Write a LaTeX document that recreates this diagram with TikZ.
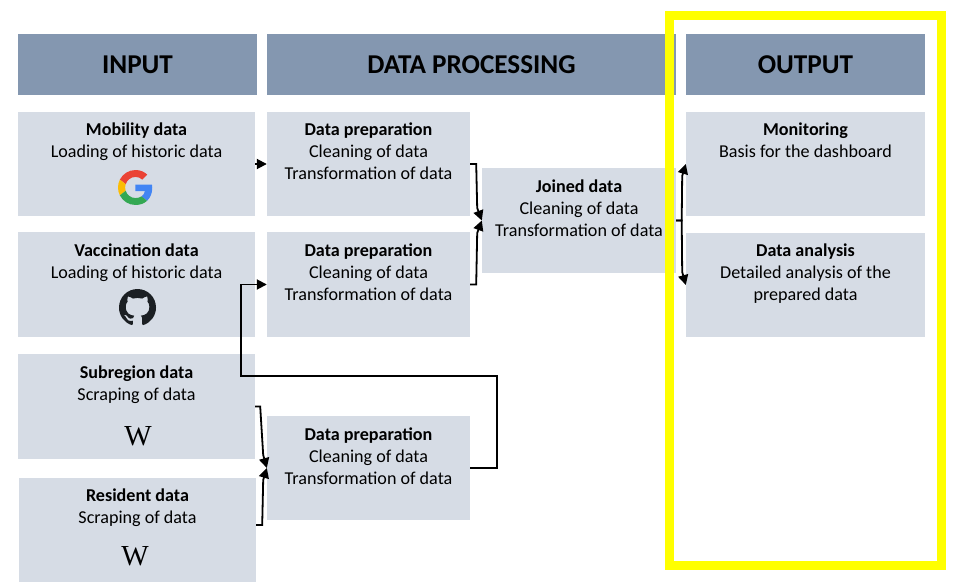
\documentclass[tikz,border=0pt]{standalone}
\usepackage{fontspec}
\setmainfont{Carlito}
\newfontfamily\wikifont{Liberation Serif}
\usetikzlibrary{arrows.meta,positioning}
\definecolor{headblue}{HTML}{8497B0}
\definecolor{boxgray}{HTML}{D6DCE5}
\definecolor{markyellow}{HTML}{FFFF00}
\definecolor{gred}{HTML}{EA4335}
\definecolor{gyellow}{HTML}{FBBC05}
\definecolor{ggreen}{HTML}{34A853}
\definecolor{gblue}{HTML}{4285F4}
\definecolor{hubblack}{HTML}{1B1F23}
\tikzset{
  headbox/.style={fill=headblue,minimum height=61pt,inner sep=0pt,font=\fontsize{27.2}{33}\selectfont\bfseries},
  databox/.style={fill=boxgray,minimum height=104.5pt,inner sep=0pt},
  boxtext/.style={align=center,inner sep=0pt,anchor=north,font=\fontsize{18.1}{22}\selectfont},
  wikitext/.style={inner sep=0pt,font=\fontsize{29}{29}\selectfont\wikifont},
  flow/.style={line width=1.8pt,-{Triangle[length=10pt,width=10pt]}},
}
\begin{document}
\begin{tikzpicture}[x=1pt,y=-1pt]
  \useasboundingbox (0,0) rectangle (953,586);
  % headers
  \node[headbox,minimum width=239pt] (input) at (137.5,64.5) {\raisebox{-1pt}{INPUT}};
  \node[headbox,minimum width=409pt] (processing) at (471.5,64.5) {\raisebox{-1pt}{DATA PROCESSING}};
  \node[headbox,minimum width=239pt] (output) at (805.5,64.5) {\raisebox{-1pt}{OUTPUT}};
  % input column
  \node[databox,minimum width=237pt] (mobility) at (136.5,164) {};
  \node[databox,minimum width=237pt] (vaccination) at (136.5,284.5) {};
  \node[databox,minimum width=237pt] (subregion) at (136.5,406.5) {};
  \node[databox,minimum width=237pt] (resident) at (137.5,530) {};
  \node[boxtext,below=11.5pt of mobility.north] (mobilitytext) {\textbf{Mobility data}\\Loading of historic data};
  \node[boxtext,below=11.5pt of vaccination.north] (vaccinationtext) {\textbf{Vaccination data}\\Loading of historic data};
  \node[boxtext,below=11.5pt of subregion.north] (subregiontext) {\textbf{Subregion data}\\Scraping of data};
  \node[boxtext,below=11.5pt of resident.north] (residenttext) {\textbf{Resident data}\\Scraping of data};
  \node[wikitext] (wikisub) at (138,436) {W};
  \node[wikitext] (wikires) at (135,556) {W};
  % processing column
  \node[databox,minimum width=203pt] (prep1) at (368.5,164) {};
  \node[databox,minimum width=203pt] (prep2) at (368.5,284.5) {};
  \node[databox,minimum width=203pt] (prep3) at (368.5,468) {};
  \node[databox,minimum width=194pt] (joined) at (579,220.5) {};
  \node[boxtext,below=11.5pt of prep1.north] (prep1text) {\textbf{Data preparation}\\Cleaning of data\\Transformation of data};
  \node[boxtext,below=11.5pt of prep2.north] (prep2text) {\textbf{Data preparation}\\Cleaning of data\\Transformation of data};
  \node[boxtext,below=12pt of prep3.north] (prep3text) {\textbf{Data preparation}\\Cleaning of data\\Transformation of data};
  \node[boxtext,below=11.5pt of joined.north] (joinedtext) {\textbf{Joined data}\\Cleaning of data\\Transformation of data};
  % output column
  \node[databox,minimum width=239pt] (monitoring) at (805.5,164) {};
  \node[databox,minimum width=239pt] (analysis) at (805.5,285) {};
  \node[boxtext,below=11.5pt of monitoring.north] (monitoringtext) {\textbf{Monitoring}\\Basis for the dashboard};
  \node[boxtext,below=11.5pt of analysis.north] (analysistext) {\textbf{Data analysis}\\Detailed analysis of the\\prepared data};
  % google logo
  \begin{scope}[shift={(118,170)},x=0.729pt,y=-0.729pt]
    \fill[gred] (24,9.5) .. controls (27.54,9.5) and (30.71,10.72) .. (33.21,13.1) -- (40.06,6.25)
      .. controls (35.9,2.38) and (30.47,0) .. (24,0) .. controls (14.62,0) and (6.51,5.38) .. (2.56,13.22)
      -- (10.54,19.41) .. controls (12.43,13.72) and (17.74,9.5) .. (24,9.5) -- cycle;
    \fill[gblue] (46.98,24.55) .. controls (46.98,22.98) and (46.83,21.46) .. (46.6,20) -- (24,20)
      -- (24,29.02) -- (36.94,29.02) .. controls (36.36,31.98) and (34.68,34.5) .. (32.16,36.2)
      -- (39.89,42.2) .. controls (44.4,38.02) and (46.98,31.84) .. (46.98,24.55) -- cycle;
    \fill[gyellow] (10.53,28.59) .. controls (10.05,27.14) and (9.77,25.6) .. (9.77,24)
      .. controls (9.77,22.4) and (10.04,20.86) .. (10.53,19.41) -- (2.55,13.22)
      .. controls (0.92,16.46) and (0,20.12) .. (0,24) .. controls (0,27.88) and (0.92,31.54) .. (2.56,34.78) -- cycle;
    \fill[ggreen] (24,48) .. controls (30.48,48) and (35.93,45.87) .. (39.89,42.19) -- (32.16,36.19)
      .. controls (30.01,37.64) and (27.24,38.49) .. (24,38.49) .. controls (17.74,38.49) and (12.43,34.27) .. (10.53,28.58)
      -- (2.55,34.77) .. controls (6.51,42.62) and (14.62,48) .. (24,48) -- cycle;
  \end{scope}
  % github logo
  \begin{scope}[shift={(119,289)},x=2.3125pt,y=-2.3125pt]
    \fill[hubblack] (8,0) .. controls (3.58,0) and (0,3.58) .. (0,8)
      .. controls (0,11.54) and (2.29,14.53) .. (5.47,15.59)
      .. controls (5.87,15.66) and (6.02,15.42) .. (6.02,15.21)
      .. controls (6.02,15.02) and (6.01,14.39) .. (6.01,13.72)
      .. controls (4,14.09) and (3.48,13.23) .. (3.32,12.78)
      .. controls (3.23,12.55) and (2.84,11.84) .. (2.5,11.65)
      .. controls (2.22,11.5) and (1.82,11.13) .. (2.49,11.12)
      .. controls (3.12,11.11) and (3.57,11.7) .. (3.72,11.94)
      .. controls (4.44,13.15) and (5.59,12.81) .. (6.05,12.6)
      .. controls (6.12,12.08) and (6.33,11.73) .. (6.56,11.53)
      .. controls (4.78,11.33) and (2.92,10.64) .. (2.92,7.58)
      .. controls (2.92,6.71) and (3.23,5.99) .. (3.74,5.43)
      .. controls (3.66,5.23) and (3.38,4.41) .. (3.82,3.31)
      .. controls (3.82,3.31) and (4.49,3.1) .. (6.02,4.13)
      .. controls (6.66,3.95) and (7.34,3.86) .. (8.02,3.86)
      .. controls (8.7,3.86) and (9.38,3.95) .. (10.02,4.13)
      .. controls (11.55,3.09) and (12.22,3.31) .. (12.22,3.31)
      .. controls (12.66,4.41) and (12.38,5.23) .. (12.3,5.43)
      .. controls (12.81,5.99) and (13.12,6.7) .. (13.12,7.58)
      .. controls (13.12,10.65) and (11.25,11.33) .. (9.47,11.53)
      .. controls (9.76,11.78) and (10.01,12.26) .. (10.01,13.01)
      .. controls (10.01,14.08) and (10,14.94) .. (10,15.21)
      .. controls (10,15.42) and (10.15,15.67) .. (10.55,15.59)
      .. controls (13.71,14.53) and (16,11.54) .. (16,8)
      .. controls (16,3.58) and (12.42,0) .. (8,0) -- cycle;
  \end{scope}
  % connectors
  \draw[flow] (mobility.east) -- (prep1.west);
  \draw[flow] (prep1.east) -- ++(6,0) -- ++(1,44) -- (joined.west);
  \draw[flow] (prep2.east) -- ++(6,0) -- ++(1,-51.5) -- (joined.west);
  \draw[flow] (joined.east) -- ++(5.5,0) -- ++(0.5,-44.5) -- (monitoring.west);
  \draw[flow] (joined.east) -- ++(5.5,0) -- ++(0.5,51.5) -- (analysis.west);
  \draw[flow] (subregion.east) -- ++(5,0) -- ++(3,48.5) -- (prep3.west);
  \draw[flow] ([yshift=5pt]resident.east) -- ++(6,0) -- ++(1,-45) -- (prep3.west);
  \draw[flow] (prep3.east) -- (497,468) -- (497,376) -- (241,376) -- (241,284.5) -- (prep2.west);
  % highlight
  \node[draw=markyellow,line width=9pt,minimum width=272pt,minimum height=550pt,inner sep=0pt] (highlight) at (805.5,290.5) {};
\end{tikzpicture}
\end{document}
